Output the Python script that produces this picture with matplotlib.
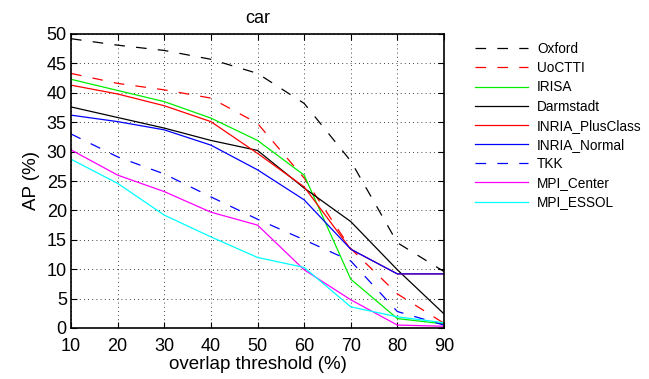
import matplotlib
matplotlib.use("Agg")
import matplotlib.pyplot as plt

plt.rcParams['font.family'] = ['Liberation Sans', 'DejaVu Sans']

# overlap threshold (%)
thresholds = [10, 20, 30, 40, 50, 60, 70, 80, 90]

# AP (%) per method
oxford = [49.2, 48.1, 47.2, 45.7, 43.3, 38.2, 28.4, 14.5, 9.6]
uoctti = [43.3, 41.6, 40.5, 39.1, 34.8, 25.5, 13.5, 5.8, 0.8]
irisa = [42.3, 40.4, 38.5, 35.7, 31.9, 26.0, 8.3, 1.6, 0.7]
darmstadt = [37.6, 35.8, 34.0, 31.9, 30.2, 23.8, 18.1, 9.9, 2.4]
inria_plus = [41.3, 39.8, 37.8, 35.1, 29.7, 24.0, 13.4, 9.2, 9.2]
inria_normal = [36.2, 35.1, 33.7, 31.1, 26.9, 21.8, 13.4, 9.2, 9.2]
tkk = [33.0, 29.1, 26.2, 22.3, 18.5, 15.0, 11.4, 2.8, 0.5]
mpi_center = [30.3, 26.0, 23.2, 19.7, 17.5, 9.9, 4.8, 0.5, 0.3]
mpi_essol = [28.7, 24.6, 19.2, 15.5, 12.0, 10.3, 3.6, 1.9, 0.9]

series = [
    ("Oxford", oxford, "black", "--"),
    ("UoCTTI", uoctti, "red", "--"),
    ("IRISA", irisa, "#00ee00", "-"),
    ("Darmstadt", darmstadt, "black", "-"),
    ("INRIA_PlusClass", inria_plus, "red", "-"),
    ("INRIA_Normal", inria_normal, "blue", "-"),
    ("TKK", tkk, "blue", "--"),
    ("MPI_Center", mpi_center, "magenta", "-"),
    ("MPI_ESSOL", mpi_essol, "cyan", "-"),
]

fig = plt.figure(figsize=(6.49, 3.79), dpi=100)
ax = fig.add_axes([71 / 649, 1 - 328 / 379, (444 - 71) / 649, (328 - 34) / 379])

for name, vals, col, ls in series:
    line, = ax.plot(thresholds, vals, color=col, linestyle=ls, linewidth=0.9, label=name)
    if ls == "--":
        line.set_dashes((8.5, 9))

ax.set_xlim(10, 90)
ax.set_ylim(0, 50)
ax.set_xticks(range(10, 91, 10))
ax.set_yticks(range(0, 51, 5))
ax.grid(True, color="black", linestyle=(0, (1, 4)), linewidth=0.6)
ax.tick_params(direction="in", top=True, right=True, length=4, labelsize=13, pad=3)
ax.tick_params(axis="x", pad=7)
for s in ax.spines.values():
    s.set_linewidth(1.2)

ax.set_title("car", fontsize=13, pad=8)
ax.set_xlabel("overlap threshold (%)", fontsize=13.5, labelpad=1)
ax.set_ylabel("AP (%)", fontsize=13.5, labelpad=5)

fig.legend(loc="upper left", bbox_to_anchor=(475 / 649, 1 - 42 / 379), frameon=False,
           fontsize=9.8, handlelength=3.9, handletextpad=0.65, labelspacing=0.38,
           borderpad=0, borderaxespad=0)

fig.savefig("out.png", dpi=100)
